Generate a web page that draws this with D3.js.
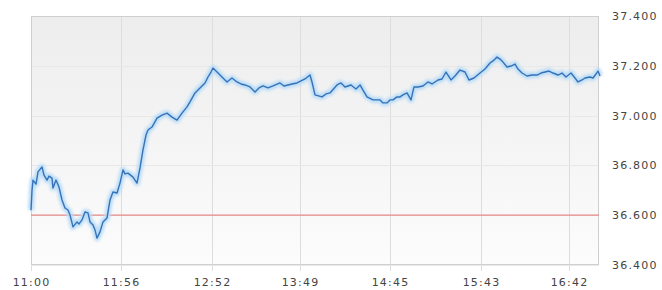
<!DOCTYPE html>
<html>
<head>
<meta charset="utf-8">
<script src="https://cdn.jsdelivr.net/npm/d3@7"></script>
<style>
  body { margin: 0; background: #fff; }
  #chart { width: 662px; height: 290px; }
  text { font-family: "DejaVu Sans", Verdana, sans-serif; font-size: 11px; fill: #444; letter-spacing: 1.2px; }
</style>
</head>
<body>
<div id="chart"></div>
<script>
// ticks of the intraday feed (x is the point index of the feed)
var tickIdx = [0, 90, 181, 269, 359, 450, 538];
var tickLabels = ["11:00", "11:56", "12:52", "13:49", "14:45", "15:43", "16:42"];
var yTicks = [36.4, 36.6, 36.8, 37.0, 37.2, 37.4];
var prevClose = 36.6;

// price trace
var pointIdx = [0, 1, 2, 5, 7, 11, 13, 16, 18, 21, 22, 25, 28, 31, 34, 37, 39, 42, 46, 48,
  51, 54, 57, 59, 62, 64, 66, 69, 72, 76, 79, 82, 86, 89, 92, 94, 97, 102, 106, 109,
  112, 115, 117, 121, 126, 131, 136, 141, 146, 151, 156, 159, 164, 169, 174, 177, 180, 182, 187, 192,
  196, 201, 206, 210, 214, 219, 224, 228, 232, 237, 242, 249, 253, 257, 261, 266, 270, 274, 279, 281,
  284, 291, 295, 299, 306, 310, 314, 320, 325, 329, 333, 336, 342, 349, 352, 356, 359, 362, 366, 369,
  372, 376, 380, 383, 387, 392, 397, 401, 407, 411, 415, 420, 424, 429, 434, 438, 443, 449, 454, 459,
  463, 466, 469, 472, 476, 480, 484, 487, 491, 496, 501, 506, 510, 514, 518, 522, 527, 531, 535, 540,
  544, 547, 551, 554, 559, 562, 565, 567, 569];
var prices = [36.620, 36.700, 36.741, 36.725, 36.774, 36.794, 36.761, 36.741, 36.757, 36.749, 36.709, 36.741, 36.713, 36.661, 36.629, 36.621, 36.601, 36.553, 36.573, 36.565,
  36.581, 36.613, 36.609, 36.573, 36.561, 36.541, 36.508, 36.533, 36.573, 36.589, 36.661, 36.693, 36.689, 36.729, 36.782, 36.766, 36.769, 36.753, 36.729, 36.790,
  36.862, 36.922, 36.942, 36.954, 36.990, 37.002, 37.010, 36.994, 36.982, 37.010, 37.035, 37.055, 37.091, 37.111, 37.131, 37.155, 37.175, 37.191, 37.171, 37.151,
  37.135, 37.151, 37.135, 37.127, 37.123, 37.115, 37.095, 37.111, 37.119, 37.111, 37.119, 37.131, 37.119, 37.123, 37.127, 37.131, 37.139, 37.147, 37.163, 37.135,
  37.083, 37.075, 37.087, 37.091, 37.123, 37.131, 37.115, 37.123, 37.107, 37.123, 37.095, 37.075, 37.063, 37.063, 37.051, 37.051, 37.063, 37.063, 37.075, 37.075,
  37.083, 37.091, 37.063, 37.115, 37.115, 37.119, 37.135, 37.127, 37.143, 37.147, 37.175, 37.143, 37.159, 37.183, 37.175, 37.143, 37.151, 37.171, 37.187, 37.211,
  37.223, 37.235, 37.227, 37.215, 37.195, 37.199, 37.207, 37.187, 37.171, 37.159, 37.163, 37.163, 37.171, 37.175, 37.179, 37.171, 37.163, 37.171, 37.155, 37.171,
  37.151, 37.135, 37.143, 37.151, 37.155, 37.151, 37.167, 37.179, 37.159];

const margin = {top: 16, right: 63, bottom: 25, left: 31};
const width = 662, height = 290;
const innerW = width - margin.left - margin.right;
const innerH = height - margin.top - margin.bottom;

const svg = d3.select("#chart").append("svg")
    .attr("width", width)
    .attr("height", height);

const defs = svg.append("defs");
const grad = defs.append("linearGradient")
    .attr("id", "bg").attr("x1", 0).attr("y1", 0).attr("x2", 0).attr("y2", 1);
grad.append("stop").attr("offset", "0%").attr("stop-color", "#ededed");
grad.append("stop").attr("offset", "100%").attr("stop-color", "#fcfcfc");
defs.append("filter").attr("id", "soft")
    .attr("x", "-5%").attr("y", "-20%").attr("width", "110%").attr("height", "140%")
    .append("feGaussianBlur").attr("stdDeviation", 1.6);

const g = svg.append("g").attr("transform", `translate(${margin.left},${margin.top})`);

const x = d3.scaleLinear().domain([0, 568]).range([0, innerW]);
const y = d3.scaleLinear().domain([36.4, 37.4]).range([innerH, 0]);

// plot background
g.append("rect")
    .attr("width", innerW).attr("height", innerH)
    .attr("fill", "url(#bg)");

// grid lines
g.selectAll(".vgrid").data(tickIdx).enter().append("line")
    .attr("x1", d => Math.round(x(d)) + 0.5).attr("x2", d => Math.round(x(d)) + 0.5)
    .attr("y1", 0).attr("y2", innerH + 6)
    .attr("stroke", "#dddddd");
g.selectAll(".hgrid").data(yTicks).enter().append("line")
    .attr("x1", 0).attr("x2", innerW)
    .attr("y1", d => Math.round(y(d)) + 0.5).attr("y2", d => Math.round(y(d)) + 0.5)
    .attr("stroke", "#e8e8e8");

// frame
g.append("rect")
    .attr("x", 0.5).attr("y", 0.5)
    .attr("width", innerW - 1).attr("height", innerH - 1)
    .attr("fill", "none").attr("stroke", "#cfcfcf");

// previous close
g.append("line")
    .attr("x1", 0).attr("x2", innerW)
    .attr("y1", y(prevClose)).attr("y2", y(prevClose))
    .attr("stroke", "#e88a8a").attr("stroke-width", 1.2);

const line = d3.line()
    .x((d, i) => x(pointIdx[i]))
    .y(d => y(d));

// soft glow under the price line
g.append("path").datum(prices)
    .attr("d", line)
    .attr("fill", "none")
    .attr("stroke", "#b9dcf7")
    .attr("stroke-width", 6)
    .attr("stroke-linejoin", "round")
    .attr("filter", "url(#soft)");
g.append("path").datum(prices)
    .attr("d", line)
    .attr("fill", "none")
    .attr("stroke", "#3572b8")
    .attr("stroke-width", 1.4)
    .attr("stroke-linejoin", "round");

// x axis labels
const xAxis = d3.axisBottom(x)
    .tickValues(tickIdx)
    .tickFormat((d, i) => tickLabels[i])
    .tickSize(0).tickPadding(13);
g.append("g").attr("transform", `translate(0,${innerH})`).call(xAxis)
    .call(s => s.select(".domain").remove());

// y axis labels on the right
const yAxis = d3.axisRight(y)
    .tickValues(yTicks)
    .tickFormat(d3.format(".3f"))
    .tickSize(0).tickPadding(13);
g.append("g").attr("transform", `translate(${innerW},0)`).call(yAxis)
    .call(s => s.select(".domain").remove());

g.selectAll(".tick text").attr("fill", "#444");
</script>
</body>
</html>
